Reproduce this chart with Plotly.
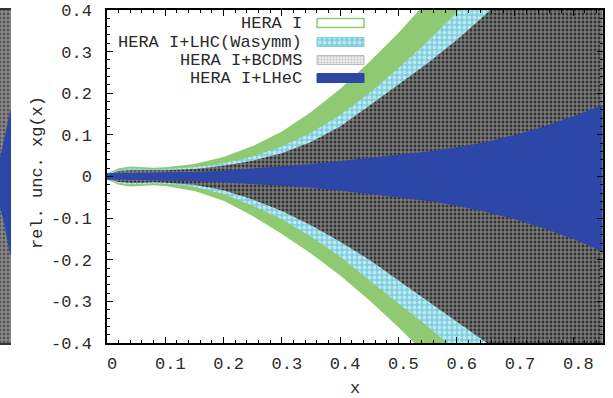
import plotly.graph_objects as go

# ---------------- data ----------------
x = [0.0, 0.02, 0.04, 0.06, 0.08, 0.10, 0.15, 0.20, 0.25, 0.30, 0.35,
     0.40, 0.45, 0.50, 0.55, 0.60, 0.65, 0.70, 0.75, 0.80, 0.85]

hera_up = [0.008, 0.020, 0.024, 0.023, 0.021, 0.022, 0.030, 0.047, 0.073, 0.108, 0.155,
           0.210, 0.275, 0.345, 0.420, 0.500, 0.58, 0.66, 0.74, 0.82, 0.90]
hera_lo = [-0.008, -0.020, -0.024, -0.023, -0.021, -0.023, -0.035, -0.058, -0.095, -0.138, -0.185,
           -0.238, -0.297, -0.362, -0.432, -0.505, -0.58, -0.66, -0.74, -0.82, -0.90]

lhc_up = [0.006, 0.016, 0.019, 0.018, 0.017, 0.018, 0.022, 0.032, 0.048, 0.072, 0.105,
          0.148, 0.200, 0.260, 0.325, 0.395, 0.470, 0.55, 0.63, 0.71, 0.79]
lhc_lo = [-0.006, -0.016, -0.019, -0.018, -0.017, -0.018, -0.025, -0.042, -0.070, -0.103, -0.145,
          -0.193, -0.250, -0.305, -0.360, -0.420, -0.480, -0.55, -0.62, -0.70, -0.78]

bcdms_up = [0.005, 0.013, 0.015, 0.015, 0.014, 0.015, 0.018, 0.026, 0.038, 0.056, 0.083,
            0.120, 0.170, 0.220, 0.272, 0.328, 0.390, 0.46, 0.53, 0.60, 0.67]
bcdms_lo = [-0.005, -0.013, -0.015, -0.015, -0.014, -0.015, -0.020, -0.033, -0.055, -0.083, -0.117,
            -0.157, -0.200, -0.248, -0.298, -0.348, -0.398, -0.45, -0.51, -0.57, -0.63]

lhec_up = [0.008, 0.008, 0.008, 0.009, 0.009, 0.010, 0.011, 0.014, 0.019, 0.024, 0.030,
           0.037, 0.045, 0.052, 0.060, 0.070, 0.083, 0.100, 0.120, 0.145, 0.172]
lhec_lo = [-0.008, -0.008, -0.008, -0.009, -0.009, -0.010, -0.011, -0.014, -0.018, -0.022, -0.027,
           -0.034, -0.042, -0.050, -0.059, -0.070, -0.085, -0.103, -0.125, -0.150, -0.180]

series_names = ["HERA I", "HERA I+LHC(Wasymm)", "HERA I+BCDMS", "HERA I+LHeC"]

# fragment of neighbouring panel (left edge)
strip_x = [0.0, 0.35, 0.7, 1.0]
strip_grey_up = [0.4, 0.4, 0.4, 0.4]
strip_grey_lo = [-0.4, -0.4, -0.4, -0.4]
strip_blue_up = [0.047, 0.085, 0.13, 0.16]
strip_blue_lo = [-0.073, -0.11, -0.16, -0.19]

xticks = [0, 0.1, 0.2, 0.3, 0.4, 0.5, 0.6, 0.7, 0.8]
yticks = [-0.4, -0.3, -0.2, -0.1, 0, 0.1, 0.2, 0.3, 0.4]
xtick_text = ["0", "0.1", "0.2", "0.3", "0.4", "0.5", "0.6", "0.7", "0.8"]
ytick_text = ["-0.4", "-0.3", "-0.2", "-0.1", "0", "0.1", "0.2", "0.3", "0.4"]

# ---------------- style ----------------
W, H = 613, 398
ML, MR, MT, MB = 0, 10, 10, 55
PW = W - ML - MR
PH = H - MT - MB
X0 = 107  # left edge of main plot (px)

FONT = "Liberation Mono"
FS = 17
TXT = "#2a2a2a"
GREEN = "#8fca72"
CYAN = "#7ccfe0"
BLUE = "#2c47a8"

fills = [
    dict(fillcolor=GREEN),
    dict(fillcolor=CYAN, fillpattern=dict(shape=".", fgcolor="white", bgcolor=CYAN,
                                           size=5, solidity=0.45)),
    dict(fillcolor="#666", fillpattern=dict(shape="+", fgcolor="#e4e4e4", bgcolor="#333333",
                                             size=4, solidity=0.5)),
    dict(fillcolor=BLUE),
]
bands = [(hera_up, hera_lo), (lhc_up, lhc_lo), (bcdms_up, bcdms_lo), (lhec_up, lhec_lo)]

fig = go.Figure()

for (up, lo), f, name in zip(bands, fills, series_names):
    fig.add_trace(go.Scatter(
        x=x + x[::-1], y=up + lo[::-1], fill="toself", mode="lines",
        line=dict(width=0), name=name, showlegend=False,
        hoverinfo="skip", **f))

# left strip (neighbouring panel fragment)
fig.add_trace(go.Scatter(
    x=strip_x + strip_x[::-1], y=strip_grey_up + strip_grey_lo[::-1], fill="toself",
    mode="lines", line=dict(width=0), xaxis="x3", yaxis="y3", showlegend=False,
    hoverinfo="skip", fillcolor="#777",
    fillpattern=dict(shape="+", fgcolor="#e0e0e0", bgcolor="#555", size=4, solidity=0.45)))
fig.add_trace(go.Scatter(
    x=strip_x + strip_x[::-1], y=strip_blue_up + strip_blue_lo[::-1], fill="toself",
    mode="lines", line=dict(width=0, shape="spline"), xaxis="x3", yaxis="y3",
    showlegend=False, hoverinfo="skip", fillcolor=BLUE))

# legend samples on an overlay axis (pixel-like coords of plot area)
leg_rows = [23, 42, 60, 78]  # y in px from top
sample_x0, sample_x1 = 317, 364
sample_h = 9
leg_styles = [
    dict(fillcolor="white", line=dict(color=GREEN, width=1.5)),
    dict(fillcolor=CYAN, line=dict(color=CYAN, width=1),
         fillpattern=dict(shape=".", fgcolor="white", bgcolor=CYAN, size=5, solidity=0.45)),
    dict(fillcolor="#ccc", line=dict(color="#bbb", width=1),
         fillpattern=dict(shape=".", fgcolor="#999", bgcolor="#eeeeee", size=3, solidity=0.4)),
    dict(fillcolor=BLUE, line=dict(color=BLUE, width=1)),
]
for yr, st, name in zip(leg_rows, leg_styles, series_names):
    y0, y1 = yr - sample_h / 2, yr + sample_h / 2
    fig.add_trace(go.Scatter(
        x=[sample_x0, sample_x1, sample_x1, sample_x0, sample_x0],
        y=[y0, y0, y1, y1, y0], fill="toself", mode="lines",
        xaxis="x2", yaxis="y2", showlegend=False, hoverinfo="skip", **st))
    fig.add_annotation(x=304, y=yr, xref="x2", yref="y2", text=name, showarrow=False,
                       xanchor="right", yanchor="middle",
                       font=dict(family=FONT, size=FS, color=TXT))

dom_x0 = (X0 - ML) / PW
axis_common = dict(showgrid=False, zeroline=False, showline=True, linecolor="black",
                   linewidth=1.5, mirror="ticks", ticks="inside", ticklen=6,
                   tickcolor="black", tickwidth=1,
                   tickfont=dict(family=FONT, size=FS, color=TXT))

fig.update_layout(
    width=W, height=H, margin=dict(l=ML, r=MR, t=MT, b=MB),
    paper_bgcolor="white", plot_bgcolor="white", showlegend=False,
    xaxis=dict(domain=[dom_x0, 1], range=[0, 0.851], tickvals=xticks, ticktext=xtick_text,
               minor=dict(dtick=0.02, ticks="inside", ticklen=3, tickcolor="black"),
               ticklabelshift=5, ticklabelstandoff=4, **axis_common),
    yaxis=dict(range=[-0.4, 0.4], tickvals=yticks, ticktext=ytick_text,
               minor=dict(dtick=0.02, ticks="inside", ticklen=3, tickcolor="black"),
               ticklabelstandoff=10, **axis_common),
    xaxis2=dict(domain=[dom_x0, 1], range=[X0, W - MR], visible=False, overlaying="x"),
    yaxis2=dict(domain=[0, 1], range=[H - MB, MT], visible=False, overlaying="y",
                anchor="x2"),
    xaxis3=dict(domain=[0, 11 / PW], range=[0, 1], visible=True, showticklabels=False,
                showgrid=False, zeroline=False, showline=True, linecolor="#333",
                linewidth=1.5, mirror=True, ticks="", anchor="y3"),
    yaxis3=dict(domain=[0, 1], range=[-0.4, 0.4], visible=True, showticklabels=False,
                showgrid=False, zeroline=False, showline=False, ticks="", anchor="x3"),
)

fig.add_annotation(x=(37 - ML) / PW, y=1 - (173 - MT) / PH, xref="paper", yref="paper",
                   text="rel. unc. xg(x)", showarrow=False, textangle=-90,
                   xanchor="center", yanchor="middle",
                   font=dict(family=FONT, size=FS, color=TXT))
fig.add_annotation(x=(355 - ML) / PW, y=1 - (388 - MT) / PH, xref="paper", yref="paper",
                   text="x", showarrow=False, xanchor="center", yanchor="middle",
                   font=dict(family=FONT, size=FS, color=TXT))

fig.write_html("out.html", config={"displayModeBar": False},
               post_script="document.body.style.margin='0';"
                           "document.body.style.padding='0';")
